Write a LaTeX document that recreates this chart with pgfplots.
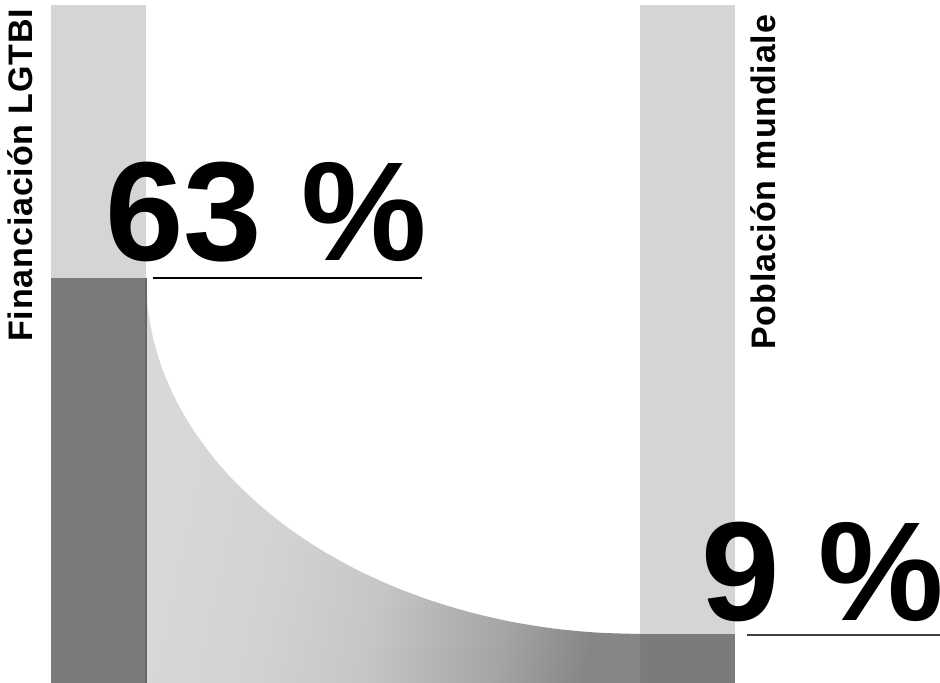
\documentclass[border=0pt]{standalone}
\usepackage{fontspec}
\setmainfont{Liberation Sans}
\usepackage{pgfplots}
\pgfplotsset{compat=1.18}
\definecolor{lightbar}{HTML}{D5D5D5}
\definecolor{darkbar}{HTML}{7B7B7B}
\definecolor{ga}{HTML}{D8D8D8}
\definecolor{gb}{HTML}{D2D2D2}
\definecolor{gc}{HTML}{C6C6C6}
\definecolor{gd}{HTML}{BABABA}
\definecolor{ge}{HTML}{A4A4A4}
\definecolor{gf}{HTML}{868686}
\pgfdeclarehorizontalshading{curvefill}{100bp}{color(0bp)=(ga); color(27bp)=(ga); color(40bp)=(gb); color(51bp)=(gc); color(56bp)=(gd); color(65bp)=(ge); color(74bp)=(gf); color(100bp)=(gf)}
\begin{document}
\begin{tikzpicture}
\begin{axis}[
  scale only axis, width=470pt, height=341.5pt,
  xmin=0, xmax=940, ymin=0, ymax=683,
  hide axis, clip=false,
]
\coordinate (SW) at (rel axis cs:0,0);
\coordinate (NE) at (rel axis cs:1,1);
% light background bars (full height)
\addplot[draw=none, fill=lightbar] coordinates {(51,0) (51,678) (146,678) (146,0)} -- cycle;
\addplot[draw=none, fill=lightbar] coordinates {(640,0) (640,678) (735,678) (735,0)} -- cycle;
% value bars
\addplot[draw=none, fill=darkbar] coordinates {(51,0) (51,405) (146,405) (146,0)} -- cycle;
\addplot[draw=none, fill=darkbar] coordinates {(640,0) (640,49) (735,49) (735,0)} -- cycle;
% connecting curve area
\addplot[draw=none, shading=curvefill, shading angle=-12, smooth] coordinates {
(146,405) (147.9,374.0) (153.5,343.2) (162.8,312.9) (175.8,283.2) (192.3,254.6)
(212.2,227.0) (235.3,200.8) (261.6,176.2) (290.7,153.3) (322.5,132.3) (356.6,113.4)
(393,96.7) (431.2,82.4) (471,70.5) (512.1,61.1) (554.2,54.4) (596.9,50.4) (640,49)
} \closedcycle;
\addplot[draw=black!60, line width=0.6pt] coordinates {(146,0) (146,405)};
% underlines
\addplot[black, line width=0.7pt] coordinates {(153,405) (422,405)};
\addplot[black!75, line width=0.7pt] coordinates {(747,48) (940,48)};
% big numbers
\node[anchor=base west, inner sep=0pt, font=\fontsize{70.5pt}{70.5pt}\selectfont\bfseries] at (axis cs:105,422) {63 \%};
\node[anchor=base west, inner sep=0pt, font=\fontsize{70.5pt}{70.5pt}\selectfont\bfseries] at (axis cs:701,62) {9 \%};
% rotated labels
\node[anchor=base west, inner sep=0pt, rotate=90, font=\fontsize{17pt}{17pt}\selectfont\bfseries\addfontfeatures{LetterSpace=2.5}] at (axis cs:33,341) {Financiación LGTBI};
\node[anchor=base west, inner sep=0pt, rotate=90, font=\fontsize{17pt}{17pt}\selectfont\bfseries\addfontfeatures{LetterSpace=2.5}] at (axis cs:775,333) {Población mundiale};
\end{axis}
\pgfresetboundingbox
\path[use as bounding box] (SW) rectangle (NE);
\end{tikzpicture}
\end{document}
